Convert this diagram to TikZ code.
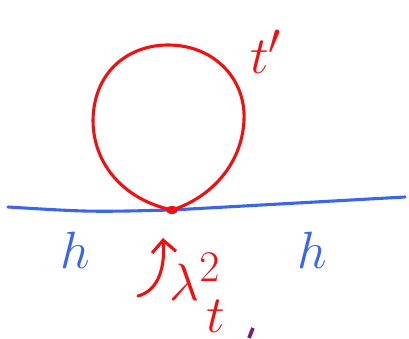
\documentclass[tikz,border=0pt]{standalone}
\usepackage{amsmath}
\usepackage{tikz}
\usetikzlibrary{arrows.meta}
\usepackage{xcolor}
\definecolor{penred}{HTML}{F01010}
\definecolor{penblue}{HTML}{3A66EE}
\definecolor{penpurple}{HTML}{7A1A8A}
\tikzset{
  inkred/.style={draw=penred, line width=2.2pt, line cap=round, line join=round},
  inkblue/.style={draw=penblue, line width=2.2pt, line cap=round},
  lab/.style={inner sep=0pt, font=\Huge, scale=1.5, transform shape},
  redlab/.style={lab, text=penred},
  bluelab/.style={lab, text=penblue}
}
\begin{document}
\begin{tikzpicture}[x=0.025cm, y=-0.025cm]
  \useasboundingbox (0,0) rectangle (409,339);
  \coordinate (lineL) at (8,207);
  \coordinate (vtx) at (172,210);
  \coordinate (lineR) at (405,197);

  % propagator line
  \draw[inkblue] (lineL) .. controls (90,212) .. (vtx) -- (lineR);

  % loop
  \draw[inkred] (vtx) .. controls (125,200) and (93,165) .. (93,120)
    .. controls (94,70) and (130,45) .. (168,45)
    .. controls (215,45) and (246,80) .. (244,120)
    .. controls (242,165) and (210,198) .. (vtx);
  \fill[penred] (vtx) ellipse (6 and 4);

  % labels
  \node[redlab] (tprime) at (266,52) {$t'$};
  \node[bluelab] (hleft) at (75,250) {$h$};
  \node[bluelab] (hright) at (312,250) {$h$};
  \node[redlab] (coupling) at (195,277) {$\lambda^{2}$};
  \node[redlab] (tvar) at (216,316) {$t$};

  % pointer to vertex
  \coordinate (tail) at (138,296);
  \coordinate (tip) at (163,238);
  \draw[inkred, -{Straight Barb[length=3mm]}] (tail) .. controls (160,290) and (165,265) .. (tip);

  \coordinate (markA) at (249,338);
  \coordinate (markB) at (253,328);
  \draw[draw=penpurple, line width=2.6pt] (markA) -- (markB);
\end{tikzpicture}
\end{document}
